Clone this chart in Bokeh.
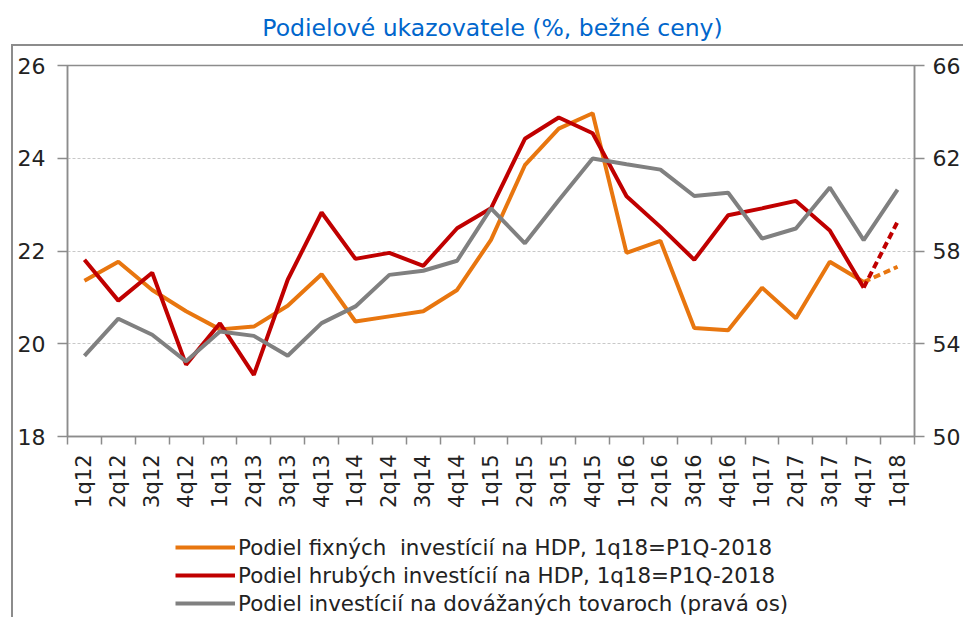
from math import pi
from bokeh.plotting import figure
from bokeh.layouts import column
from bokeh.models import Range1d, LinearAxis, FixedTicker, Legend, LegendItem
from bokeh.embed import file_html
from bokeh.resources import INLINE

quarters = ["1q12", "2q12", "3q12", "4q12", "1q13", "2q13", "3q13", "4q13",
            "1q14", "2q14", "3q14", "4q14", "1q15", "2q15", "3q15", "4q15",
            "1q16", "2q16", "3q16", "4q16", "1q17", "2q17", "3q17", "4q17", "1q18"]

fixed_share = [21.36, 21.77, 21.16, 20.70, 20.31, 20.37, 20.82, 21.50,
               20.48, 20.59, 20.70, 21.16, 22.24, 23.85, 24.64, 24.97,
               21.96, 22.22, 20.34, 20.29, 21.21, 20.55, 21.77, 21.33, 21.66]

gross_share = [21.81, 20.93, 21.53, 19.55, 20.44, 19.33, 21.38, 22.83,
               21.83, 21.96, 21.68, 22.49, 22.92, 24.42, 24.88, 24.54,
               23.18, 22.52, 21.81, 22.77, 22.92, 23.08, 22.44, 21.21, 22.63]

import_share = [53.48, 55.08, 54.39, 53.24, 54.53, 54.34, 53.48, 54.89,
                55.61, 56.97, 57.15, 57.58, 59.84, 58.33, 60.19, 61.99,
                61.74, 61.51, 60.37, 60.51, 58.54, 58.97, 60.74, 58.47, 60.65]

left_ticks = [18, 20, 22, 24, 26]
right_ticks = [50, 54, 58, 62, 66]

title_text = "Podielové ukazovatele (%, bežné ceny)"
labels = ["Podiel fixných  investícií na HDP, 1q18=P1Q-2018",
          "Podiel hrubých investícií na HDP, 1q18=P1Q-2018",
          "Podiel investícií na dovážaných tovaroch (pravá os)"]

ORANGE = "#E8760F"
RED = "#C00000"
GRAY = "#808080"
AXIS = "#8C8C8C"
FONT = "DejaVu Sans"

xs = list(range(len(quarters)))
n = len(quarters)

# ---------- title strip ----------
pt = figure(width=963, height=44, output_backend="svg", toolbar_location=None,
            x_range=Range1d(0, 1), y_range=Range1d(0, 1),
            min_border_left=67, min_border_right=46, min_border_top=42,
            min_border_bottom=0, x_axis_location=None, y_axis_location=None)
pt.title.text = title_text
pt.title.align = "center"
pt.title.text_color = "#0066CC"
pt.title.text_font = FONT
pt.title.text_font_style = "normal"
pt.title.text_font_size = "23.5px"
pt.title.standoff = 2
pt.outline_line_color = None
pt.grid.visible = False

# ---------- main chart ----------
p = figure(width=950, height=464, output_backend="svg", toolbar_location=None,
           x_range=Range1d(-0.5, n - 0.5), y_range=Range1d(18, 26),
           min_border_left=54, min_border_right=46, min_border_top=19,
           min_border_bottom=73, x_axis_location=None, y_axis_location=None)
p.extra_y_ranges = {"right": Range1d(50, 66)}
p.outline_line_color = AXIS
p.outline_line_width = 1.5

yl = LinearAxis(ticker=FixedTicker(ticks=left_ticks))
yr = LinearAxis(ticker=FixedTicker(ticks=right_ticks), y_range_name="right")
for ax in (yl, yr):
    ax.axis_line_color = AXIS
    ax.axis_line_width = 1.5
    ax.major_tick_line_color = AXIS
    ax.major_tick_line_width = 1.5
    ax.major_tick_out = 10
    ax.major_tick_in = 0
    ax.minor_tick_line_color = None
    ax.major_label_text_font = FONT
    ax.major_label_text_font_size = "22px"
    ax.major_label_text_color = "#222222"
yl.major_label_standoff = 12
yr.major_label_standoff = 8
p.add_layout(yl, "left")
p.add_layout(yr, "right")

xa = LinearAxis(ticker=FixedTicker(ticks=xs, minor_ticks=[i - 0.5 for i in range(n + 1)]))
xa.major_label_overrides = {i: q for i, q in enumerate(quarters)}
xa.major_label_orientation = pi / 2
xa.axis_line_color = AXIS
xa.axis_line_width = 1.5
xa.major_tick_line_color = None
xa.major_tick_out = 8
xa.major_tick_in = 0
xa.minor_tick_line_color = AXIS
xa.minor_tick_line_width = 1.5
xa.minor_tick_out = 8
xa.minor_tick_in = 0
xa.major_label_standoff = 10
xa.major_label_text_font = FONT
xa.major_label_text_font_size = "21px"
xa.major_label_text_color = "#222222"
p.add_layout(xa, "below")

p.xgrid.visible = False
p.ygrid.ticker = FixedTicker(ticks=[20, 22, 24])
p.ygrid.grid_line_color = "#C8C8C8"
p.ygrid.grid_line_dash = "3 2"
p.ygrid.grid_line_width = 1

LW = 4
p.line(xs[:-1], fixed_share[:-1], line_color=ORANGE, line_width=LW)
p.line(xs[-2:], fixed_share[-2:], line_color=ORANGE, line_width=LW, line_dash="7 4")
p.line(xs[:-1], gross_share[:-1], line_color=RED, line_width=LW)
p.line(xs[-2:], gross_share[-2:], line_color=RED, line_width=LW, line_dash="7 4")
p.line(xs, import_share, line_color=GRAY, line_width=LW, y_range_name="right")

# ---------- legend strip (same series; they fall outside this strip's view) ----------
pl = figure(width=950, height=107, output_backend="svg", toolbar_location=None,
            x_range=Range1d(-0.5, n - 0.5), y_range=Range1d(0, 1), min_border=0,
            x_axis_location=None, y_axis_location=None)
pl.outline_line_color = None
pl.grid.visible = False
k_fix = pl.line(xs, fixed_share, line_color=ORANGE, line_width=LW)
k_gross = pl.line(xs, gross_share, line_color=RED, line_width=LW)
k_imp = pl.line(xs, import_share, line_color=GRAY, line_width=LW)

legend = Legend(items=[LegendItem(label=labels[0], renderers=[k_fix]),
                       LegendItem(label=labels[1], renderers=[k_gross]),
                       LegendItem(label=labels[2], renderers=[k_imp])],
                location=(108, 0), orientation="vertical")
legend.label_text_font = FONT
legend.label_text_font_size = "21.4px"
legend.label_text_color = "#222222"
legend.glyph_width = 60
legend.glyph_height = 28
legend.label_height = 28
legend.label_standoff = 3
legend.spacing = 0
legend.padding = 0
legend.margin = 0
legend.border_line_color = None
legend.background_fill_alpha = 0
pl.add_layout(legend)

body = column(p, pl, spacing=0,
              styles={"border-top": "2px solid #8C8C8C", "border-left": "2px solid #8C8C8C"},
              margin=(0, 0, 0, 11))
page = column(pt, body, spacing=0)

open("out.html", "w").write(file_html(page, INLINE))
